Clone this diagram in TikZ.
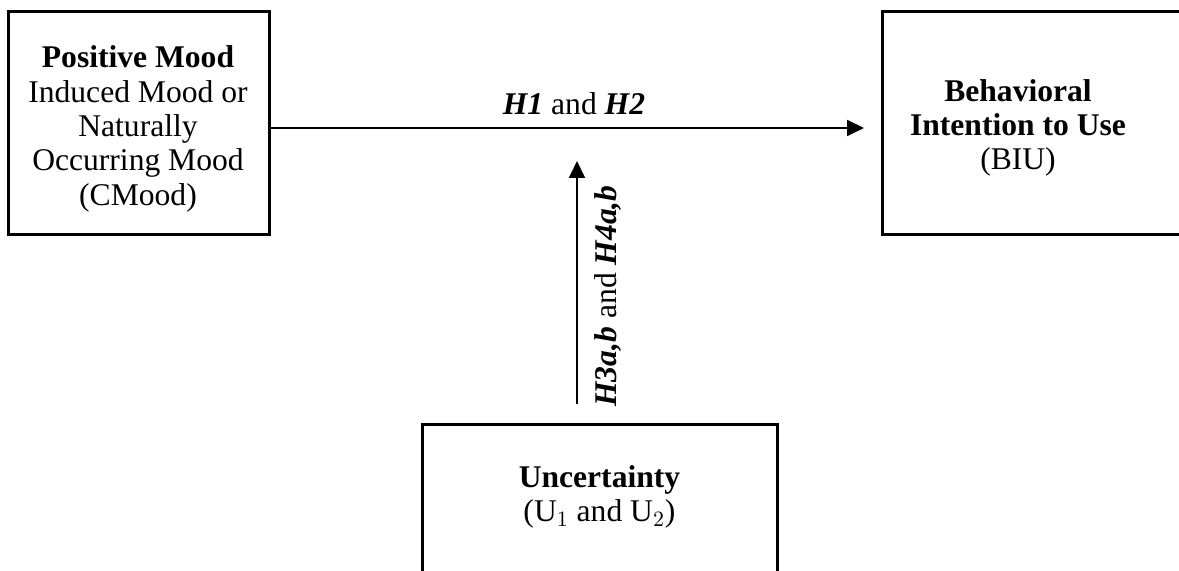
\documentclass[tikz,border=0pt]{standalone}
\usepackage{fontspec}
\setmainfont{Liberation Serif}
\usetikzlibrary{arrows.meta}
\tikzset{
  boxshape/.style={draw, line width=1.5pt, rectangle, inner sep=0pt},
  txt/.style={align=center, inner sep=0pt, font=\fontsize{15.8pt}{17.2pt}\selectfont},
  conn/.style={line width=0.9pt, -{Triangle[length=8.5pt,width=8pt]}}
}
\begin{document}
\begin{tikzpicture}[x=0.5pt,y=-0.5pt]
\clip (0,0) rectangle (1179,571);
\useasboundingbox (0,0) rectangle (1179,571);
% left box
\node[boxshape, minimum width=130.5pt, minimum height=111.5pt] (mood) at (138.5,123.5) {};
\node[txt] (moodtext) at (138,129)
  {\textbf{Positive Mood}\\Induced Mood or\\Naturally\\Occurring Mood\\(CMood)};
% right box (extends past right edge)
\node[boxshape, minimum width=160pt, minimum height=111.5pt] (biu) at (1042,123.5) {};
\node[txt] (biutext) at (1018,128) {\textbf{Behavioral}\\\textbf{Intention to Use}\\(BIU)};
% bottom box (extends past bottom edge)
\node[boxshape, minimum width=177.5pt, minimum height=100pt] (unc) at (599.5,525) {};
\node[txt] (unctext) at (599.5,497) {\textbf{Uncertainty}\\(U$_1$ and U$_2$)};
% connectors
\coordinate (hend) at (864,128);
\coordinate (vstart) at (577,404);
\coordinate (vend) at (577,161);
\draw[conn] (mood.east |- hend) -- (hend);
\draw[conn] (vstart) -- (vend);
% labels
\node[txt] (h12) at (574,104) {\textbf{\textit{H1}} and \textbf{\textit{H2}}};
\node[txt, rotate=90] (h34) at (608,296) {\textbf{\textit{H3a,b}} and \textbf{\textit{H4a,b}}};
\end{tikzpicture}
\end{document}
